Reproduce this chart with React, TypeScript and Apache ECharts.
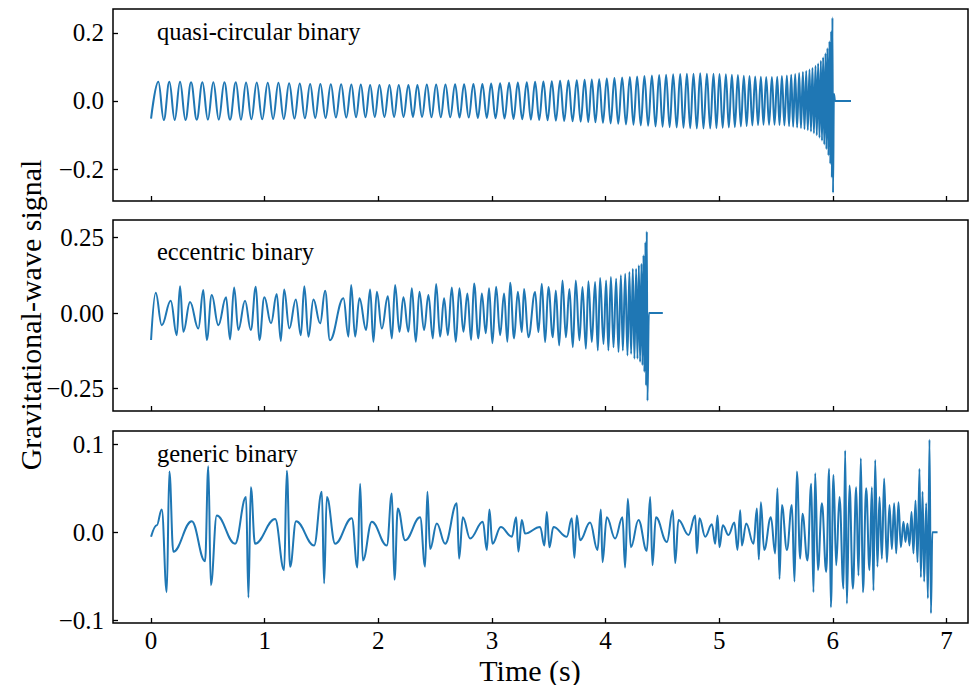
import React, { useEffect, useRef } from 'react';
import * as echarts from 'echarts';

// ---------- data ----------
// quasi-circular binary: extrema times (s) and signal values
const qcT = [
  0, 0.064, 0.112, 0.161, 0.208, 0.255, 0.303, 0.352, 0.402, 0.452,
  0.5, 0.548, 0.596, 0.645, 0.695, 0.746, 0.791, 0.836, 0.883, 0.93,
  0.978, 1.027, 1.074, 1.121, 1.168, 1.215, 1.262, 1.309, 1.354, 1.4,
  1.445, 1.49, 1.536, 1.582, 1.627, 1.673, 1.718, 1.763, 1.804, 1.846,
  1.887, 1.928, 1.969, 2.01, 2.054, 2.098, 2.139, 2.18, 2.222, 2.265,
  2.305, 2.344, 2.385, 2.427, 2.468, 2.509, 2.55, 2.591, 2.633, 2.676,
  2.715, 2.755, 2.796, 2.837, 2.876, 2.916, 2.955, 2.993, 3.032, 3.072,
  3.111, 3.151, 3.19, 3.228, 3.267, 3.307, 3.343, 3.38, 3.416, 3.453,
  3.49, 3.527, 3.563, 3.6, 3.636, 3.673, 3.71, 3.747, 3.781, 3.816,
  3.848, 3.879, 3.911, 3.944, 3.977, 4.011, 4.045, 4.078, 4.112, 4.146,
  4.18, 4.214, 4.246, 4.278, 4.31, 4.342, 4.375, 4.408, 4.44, 4.472,
  4.502, 4.533, 4.564, 4.595, 4.626, 4.657, 4.686, 4.716, 4.745, 4.774,
  4.803, 4.833, 4.862, 4.892, 4.921, 4.95, 4.976, 5.003, 5.031, 5.059,
  5.085, 5.112, 5.138, 5.165, 5.191, 5.217, 5.242, 5.267, 5.292, 5.317,
  5.342, 5.367, 5.39, 5.414, 5.439, 5.464, 5.487, 5.511, 5.531, 5.552,
  5.574, 5.596, 5.615, 5.634, 5.651, 5.669, 5.686, 5.704, 5.72, 5.737,
  5.751, 5.766, 5.78, 5.795, 5.808, 5.821, 5.834, 5.848, 5.859, 5.871,
  5.883, 5.895, 5.905, 5.915, 5.925, 5.936, 5.944, 5.953, 5.962, 5.971,
  5.978, 5.986, 5.992, 5.997, 6.002, 6.01, 6.02, 6.16,
];
const qcH = [
  -0.052, 0.056, -0.056, 0.056, -0.056, 0.056, -0.056, 0.055, -0.055, 0.055,
  -0.055, 0.055, -0.055, 0.055, -0.055, 0.055, -0.055, 0.054, -0.054, 0.054,
  -0.054, 0.053, -0.053, 0.053, -0.053, 0.052, -0.052, 0.051, -0.051, 0.05,
  -0.05, 0.05, -0.05, 0.049, -0.049, 0.049, -0.049, 0.048, -0.048, 0.048,
  -0.048, 0.047, -0.047, 0.047, -0.047, 0.047, -0.047, 0.047, -0.047, 0.047,
  -0.047, 0.047, -0.047, 0.048, -0.048, 0.048, -0.048, 0.048, -0.048, 0.049,
  -0.049, 0.049, -0.049, 0.05, -0.05, 0.05, -0.05, 0.051, -0.051, 0.052,
  -0.052, 0.053, -0.053, 0.054, -0.054, 0.055, -0.055, 0.056, -0.056, 0.057,
  -0.057, 0.058, -0.058, 0.059, -0.059, 0.06, -0.06, 0.061, -0.061, 0.062,
  -0.062, 0.063, -0.063, 0.064, -0.064, 0.066, -0.066, 0.067, -0.067, 0.069,
  -0.069, 0.07, -0.07, 0.072, -0.072, 0.073, -0.073, 0.075, -0.075, 0.076,
  -0.076, 0.077, -0.077, 0.078, -0.078, 0.079, -0.079, 0.08, -0.08, 0.08,
  -0.081, 0.081, -0.081, 0.08, -0.081, 0.08, -0.08, 0.079, -0.079, 0.078,
  -0.078, 0.077, -0.077, 0.076, -0.075, 0.074, -0.074, 0.073, -0.072, 0.072,
  -0.071, 0.071, -0.07, 0.07, -0.07, 0.07, -0.07, 0.071, -0.071, 0.073,
  -0.072, 0.075, -0.074, 0.077, -0.076, 0.079, -0.078, 0.082, -0.08, 0.085,
  -0.083, 0.088, -0.086, 0.092, -0.09, 0.097, -0.095, 0.103, -0.101, 0.11,
  -0.108, 0.118, -0.117, 0.128, -0.128, 0.14, -0.142, 0.155, -0.16, 0.175,
  -0.185, 0.205, -0.225, 0.245, -0.27, 0.02, 0, 0,
];

// eccentric binary
const ecT = [
  0, 0.041, 0.094, 0.173, 0.226, 0.255, 0.284, 0.343, 0.416, 0.46,
  0.49, 0.534, 0.592, 0.66, 0.695, 0.731, 0.768, 0.827, 0.878, 0.922,
  0.953, 0.997, 1.056, 1.106, 1.142, 1.171, 1.217, 1.274, 1.318, 1.349,
  1.385, 1.429, 1.488, 1.532, 1.574, 1.693, 1.737, 1.761, 1.796, 1.834,
  1.893, 1.928, 1.957, 1.987, 2.031, 2.084, 2.119, 2.148, 2.186, 2.221,
  2.265, 2.295, 2.33, 2.362, 2.403, 2.441, 2.48, 2.509, 2.544, 2.579,
  2.612, 2.647, 2.682, 2.714, 2.749, 2.784, 2.817, 2.843, 2.881, 2.911,
  2.946, 2.975, 3.004, 3.037, 3.072, 3.107, 3.136, 3.16, 3.195, 3.228,
  3.263, 3.283, 3.321, 3.38, 3.409, 3.439, 3.468, 3.497, 3.536, 3.562,
  3.592, 3.621, 3.651, 3.682, 3.712, 3.738, 3.77, 3.797, 3.827, 3.849,
  3.879, 3.908, 3.932, 3.952, 3.982, 4.005, 4.025, 4.047, 4.07, 4.093,
  4.114, 4.135, 4.152, 4.173, 4.193, 4.21, 4.225, 4.24, 4.254, 4.269,
  4.281, 4.293, 4.304, 4.316, 4.325, 4.334, 4.342, 4.351, 4.357, 4.363,
  4.369, 4.381, 4.504,
];
const ecH = [
  -0.089, 0.067, -0.04, 0.041, -0.073, 0.089, -0.062, 0.037, -0.051, 0.076,
  -0.089, 0.06, -0.04, 0.052, -0.087, 0.085, -0.056, 0.041, -0.056, 0.087,
  -0.089, 0.052, -0.034, 0.063, -0.092, 0.078, -0.051, 0.045, -0.073, 0.089,
  -0.078, 0.045, -0.034, 0.074, -0.09, 0.049, -0.078, 0.093, -0.078, 0.049,
  -0.056, 0.078, -0.095, 0.071, -0.051, 0.056, -0.084, 0.093, -0.062, 0.052,
  -0.062, 0.082, -0.095, 0.071, -0.056, 0.06, -0.084, 0.096, -0.078, 0.049,
  -0.073, 0.085, -0.095, 0.082, -0.062, 0.065, -0.089, 0.098, -0.084, 0.065,
  -0.067, 0.082, -0.1, 0.087, -0.073, 0.065, -0.095, 0.1, -0.084, 0.071,
  -0.063, 0.08, -0.08, 0.07, -0.063, 0.097, -0.096, 0.086, -0.08, 0.075,
  -0.107, 0.108, -0.08, 0.08, -0.113, 0.108, -0.09, 0.086, -0.118, 0.105,
  -0.096, 0.103, -0.124, 0.116, -0.102, 0.108, -0.124, 0.119, -0.113, 0.114,
  -0.129, 0.125, -0.124, 0.13, -0.14, 0.136, -0.135, 0.147, -0.151, 0.147,
  -0.151, 0.158, -0.162, 0.163, -0.173, 0.191, -0.195, 0.235, -0.24, 0.27,
  -0.29, 0, 0,
];

// generic binary
const gnT = [
  0, 0.05, 0.094, 0.138, 0.161, 0.196, 0.358, 0.475, 0.504, 0.526,
  0.578, 0.739, 0.836, 0.857, 0.878, 0.915, 1.092, 1.171, 1.195, 1.224,
  1.276, 1.435, 1.503, 1.523, 1.547, 1.62, 1.767, 1.816, 1.84, 1.864,
  1.943, 2.075, 2.119, 2.142, 2.172, 2.236, 2.368, 2.412, 2.432, 2.456,
  2.515, 2.588, 2.691, 2.711, 2.744, 2.808, 2.92, 2.955, 2.978, 3.004,
  3.078, 3.175, 3.213, 3.233, 3.263, 3.292, 3.424, 3.462, 3.483, 3.506,
  3.541, 3.659, 3.703, 3.726, 3.747, 3.776, 3.864, 3.929, 3.959, 3.973,
  4.011, 4.084, 4.149, 4.172, 4.196, 4.223, 4.29, 4.363, 4.393, 4.413,
  4.443, 4.54, 4.592, 4.613, 4.642, 4.73, 4.789, 4.804, 4.827, 4.877,
  4.936, 4.965, 4.985, 5.003, 5.032, 5.082, 5.134, 5.161, 5.185, 5.2,
  5.238, 5.302, 5.332, 5.349, 5.367, 5.396, 5.455, 5.493, 5.513, 5.531,
  5.552, 5.596, 5.64, 5.663, 5.684, 5.713, 5.733, 5.777, 5.81, 5.83,
  5.845, 5.869, 5.904, 5.942, 5.968, 5.983, 6.006, 6.03, 6.059, 6.094,
  6.109, 6.124, 6.147, 6.177, 6.206, 6.226, 6.247, 6.265, 6.294, 6.323,
  6.344, 6.358, 6.373, 6.393, 6.411, 6.432, 6.452, 6.476, 6.499, 6.52,
  6.54, 6.558, 6.578, 6.599, 6.622, 6.64, 6.657, 6.675, 6.693, 6.71,
  6.728, 6.746, 6.763, 6.775, 6.79, 6.804, 6.822, 6.837, 6.851, 6.864,
  6.876, 6.922,
];
const gnH = [
  -0.005, 0.008, 0.026, -0.068, 0.069, -0.022, 0.0125, -0.033, 0.075, -0.06,
  0.019, -0.013, 0.04, -0.074, 0.051, -0.013, 0.015, -0.043, 0.07, -0.039,
  0.0125, -0.015, 0.046, -0.058, 0.04, -0.013, 0.016, -0.04, 0.055, -0.032,
  0.012, -0.015, 0.044, -0.054, 0.027, -0.009, 0.017, -0.039, 0.046, -0.019,
  0.01, -0.013, 0.033, -0.03, 0.017, -0.007, 0.012, -0.02, 0.026, -0.013,
  0.006, -0.005, 0.017, -0.022, 0.014, -0.0015, 0.006, -0.015, 0.023, -0.017,
  0.006, -0.005, 0.016, -0.029, 0.019, -0.009, 0.011, -0.02, 0.026, -0.034,
  0.017, -0.007, 0.017, -0.04, 0.038, -0.017, 0.014, -0.021, 0.04, -0.0375,
  0.017, -0.011, 0.025, -0.035, 0.014, -0.003, 0.019, -0.024, 0.016, -0.005,
  0.009, -0.013, 0.019, -0.017, 0.008, -0.003, 0.011, -0.02, 0.025, -0.015,
  0.01, -0.013, 0.027, -0.031, 0.034, -0.02, 0.017, -0.024, 0.05, -0.053,
  0.031, -0.02, 0.031, -0.056, 0.069, -0.03, 0.021, -0.032, 0.055, -0.068,
  0.067, -0.043, 0.033, -0.045, 0.072, -0.085, 0.065, -0.0375, 0.04, -0.064,
  0.093, -0.081, 0.053, -0.064, 0.051, -0.049, 0.084, -0.068, 0.05, -0.043,
  0.051, -0.066, 0.082, -0.039, 0.04, -0.03, 0.061, -0.034, 0.031, -0.019,
  0.033, -0.024, 0.034, -0.017, 0.012, -0.011, 0.01, -0.015, 0.023, -0.024,
  0.036, -0.034, 0.072, -0.051, 0.046, -0.056, 0.033, -0.075, 0.105, -0.092,
  0, 0,
];

// ticks and labels
const xTicks = [0, 1, 2, 3, 4, 5, 6, 7];
const qcTicks = [-0.2, 0, 0.2];
const ecTicks = [-0.25, 0, 0.25];
const gnTicks = [-0.1, 0, 0.1];
const panelNames = ['quasi-circular binary', 'eccentric binary', 'generic binary'];
const xLabel = 'Time (s)';
const yLabel = 'Gravitational-wave signal';

const FONT = '"Liberation Serif", "DejaVu Serif", "Times New Roman", serif';
const LINE = '#1f77b4';

export default function App() {
  const ref = useRef<HTMLDivElement>(null);

  useEffect(() => {
    if (!ref.current) return;
    const chart = echarts.init(ref.current, undefined, { renderer: 'svg' });

    const panels = [
      { t: qcT, h: qcH, ticks: qcTicks, dec: 1, min: -0.294, max: 0.27, top: 9, height: 192, labelY: 31 },
      { t: ecT, h: ecH, ticks: ecTicks, dec: 2, min: -0.324, max: 0.308, top: 220, height: 191, labelY: 251 },
      { t: gnT, h: gnH, ticks: gnTicks, dec: 1, min: -0.103, max: 0.115, top: 431, height: 192, labelY: 453 },
    ];

    const fmt = (dec: number) => (v: number) => {
      const s = Math.abs(v).toFixed(dec);
      return v < -1e-9 ? '\u2212' + s : s;
    };

    const option: any = {
      animation: false,
      backgroundColor: '#fff',
      grid: panels.map((p) => ({
        left: 113,
        top: p.top,
        width: 855,
        height: p.height,
        show: true,
        borderColor: '#000',
        borderWidth: 1.5,
        backgroundColor: 'transparent',
      })),
      xAxis: panels.map((p, i) => ({
        type: 'value',
        gridIndex: i,
        min: -0.335,
        max: 7.19,
        position: 'bottom',
        axisLine: { show: false, onZero: false },
        splitLine: { show: false },
        axisTick: {
          show: true,
          inside: true,
          length: 5,
          customValues: xTicks,
          lineStyle: { color: '#000', width: 1.3 },
        },
        axisLabel: {
          show: i === 2,
          customValues: xTicks,
          color: '#000',
          fontFamily: FONT,
          fontSize: 25,
          lineHeight: 25,
          margin: 5,
          formatter: (v: number) => String(v),
        },
      })),
      yAxis: panels.map((p, i) => ({
        type: 'value',
        gridIndex: i,
        min: p.min,
        max: p.max,
        position: 'left',
        axisLine: { show: false, onZero: false },
        splitLine: { show: false },
        axisTick: {
          show: true,
          inside: true,
          length: 5,
          customValues: p.ticks,
          lineStyle: { color: '#000', width: 1.3 },
        },
        axisLabel: {
          customValues: p.ticks,
          color: '#000',
          fontFamily: FONT,
          fontSize: 25,
          margin: 9,
          formatter: fmt(p.dec),
        },
      })),
      series: panels.map((p, i) => ({
        type: 'line',
        xAxisIndex: i,
        yAxisIndex: i,
        data: p.t.map((t, k) => [t, p.h[k]]),
        showSymbol: false,
        symbol: 'none',
        smooth: 0.4,
        smoothMonotone: 'x',
        silent: true,
        lineStyle: { color: LINE, width: 2 },
      })),
      graphic: [
        ...panels.map((p, i) => ({
          type: 'text',
          x: 157,
          y: p.labelY,
          silent: true,
          style: {
            text: panelNames[i],
            fontFamily: FONT,
            fontSize: 24.5,
            fill: '#000',
            align: 'left',
            verticalAlign: 'middle',
          },
        })),
        {
          type: 'text',
          x: 30,
          y: 315,
          rotation: Math.PI / 2,
          silent: true,
          style: {
            text: yLabel,
            fontFamily: FONT,
            fontSize: 30,
            fill: '#000',
            align: 'center',
            verticalAlign: 'middle',
          },
        },
        {
          type: 'text',
          x: 530,
          y: 670,
          silent: true,
          style: {
            text: xLabel,
            fontFamily: FONT,
            fontSize: 30,
            lineHeight: 30,
            fill: '#000',
            align: 'center',
            verticalAlign: 'middle',
          },
        },
      ],
    };

    chart.setOption(option);
    return () => chart.dispose();
  }, []);

  return (
    <div
      ref={ref}
      style={{ position: 'absolute', left: 0, top: 0, width: 969, height: 685 }}
    />
  );
}
